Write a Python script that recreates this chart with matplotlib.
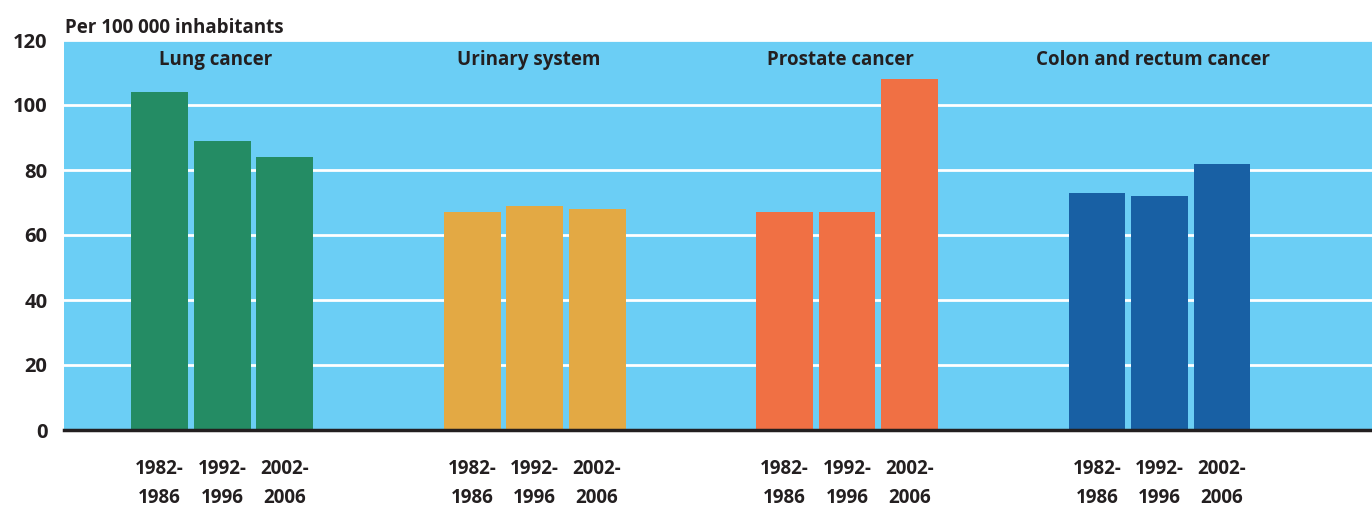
import matplotlib
matplotlib.use("Agg")
from matplotlib import pyplot as plt
import numpy as np

plt.rcParams["font.family"] = ["Open Sans", "DejaVu Sans"]

categories = ["Lung cancer", "Urinary system", "Prostate cancer", "Colon and rectum cancer"]
periods = ["1982-\n1986", "1992-\n1996", "2002-\n2006"]
lung = [104, 89, 84]
urinary = [67, 69, 68]
prostate = [67, 67, 108]
colon = [73, 72, 82]
series = [lung, urinary, prostate, colon]
colors = ["#248c64", "#e3a944", "#f07044", "#1860a4"]

fig = plt.figure(figsize=(13.72, 5.07), dpi=100)
ax = fig.add_axes([64 / 1372, 77 / 507, 1308 / 1372, 390 / 507])
ax.set_facecolor("#6bcef5")

xticks = []
xlabels = []
for g, vals in enumerate(series):
    x = g * 5 + np.arange(3)
    ax.bar(x, vals, width=0.91, color=colors[g], zorder=3)
    ax.text(g * 5 + 0.9, 113.7, categories[g], ha="center", va="center",
            fontsize=13.5, fontweight="bold", color="#231f20")
    xticks += list(x)
    xlabels += periods

ax.set_xlim(-1.53, 19.4)
ax.set_ylim(0, 120)
ax.set_yticks(range(0, 121, 20))
ax.yaxis.grid(True, color="white", linewidth=2, zorder=1)
ax.set_axisbelow(True)
ax.set_xticks(xticks)
ax.set_xticklabels(xlabels, fontsize=13.5, fontweight="bold", color="#231f20",
                   linespacing=1.6)
for lab in ax.get_yticklabels():
    lab.set_fontweight("bold")
    lab.set_fontsize(14.5)
    lab.set_color("#231f20")
ax.tick_params(axis="both", length=0)
ax.tick_params(axis="x", pad=21)
ax.tick_params(axis="y", pad=12)

for s in ["top", "right", "left"]:
    ax.spines[s].set_visible(False)
ax.spines["bottom"].set_color("#231f20")
ax.spines["bottom"].set_linewidth(2.5)
ax.spines["bottom"].set_zorder(4)

fig.text(65 / 1372, 1 - 28 / 507, "Per 100 000 inhabitants", ha="left", va="center",
         fontsize=13.5, fontweight="bold", color="#231f20")

fig.savefig("out.png", dpi=100)
